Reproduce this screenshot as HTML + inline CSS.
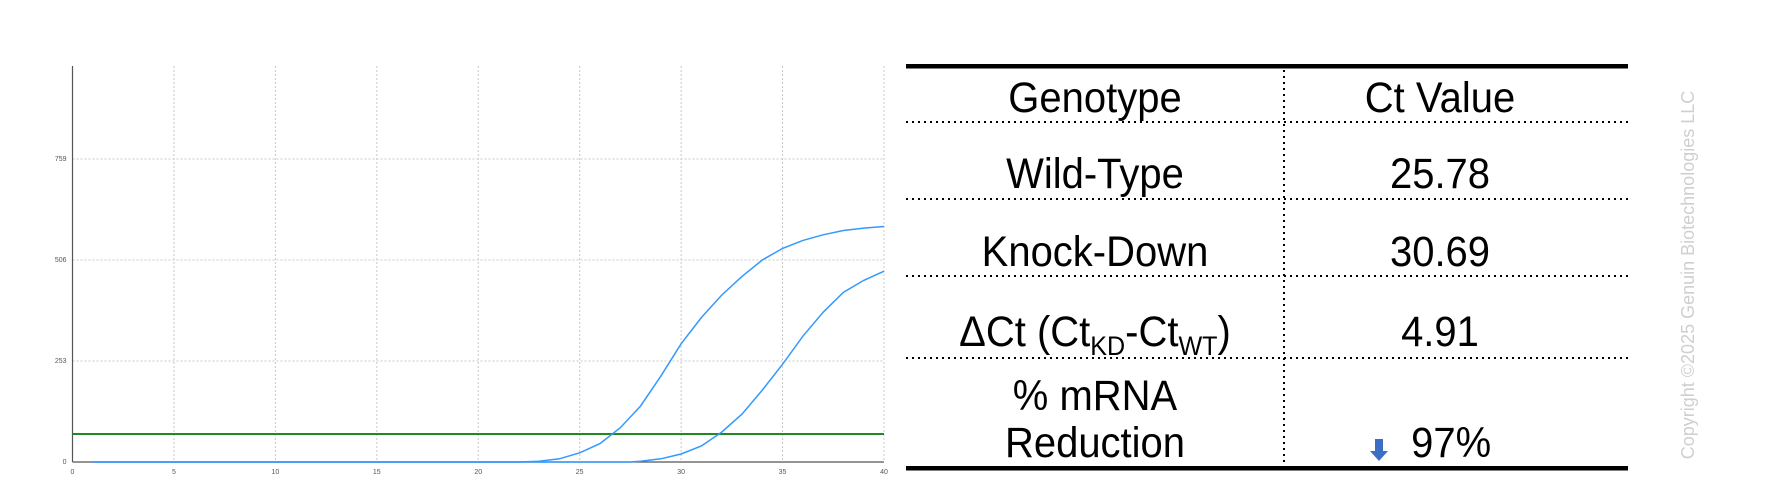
<!DOCTYPE html>
<html><head><meta charset="utf-8"><style>
html,body{margin:0;padding:0;background:#fff;}
svg{display:block;font-family:"Liberation Sans",sans-serif;}
</style></head><body>
<svg id="c" width="1776" height="493" viewBox="0 0 1776 493">
<g id="chart"></g>
<g>
  <rect x="906" y="64" width="722" height="4.5" fill="#000"/>
  <rect x="906" y="466" width="722" height="4.5" fill="#000"/>
  <g stroke="#000" stroke-width="2" stroke-dasharray="2,4" fill="none">
    <line x1="906" y1="122" x2="1628" y2="122"/>
    <line x1="906" y1="199" x2="1628" y2="199"/>
    <line x1="906" y1="276" x2="1628" y2="276"/>
    <line x1="906" y1="358" x2="1628" y2="358"/>
    <line x1="1284" y1="70" x2="1284" y2="466"/>
  </g>
  <g font-size="43" fill="#000" text-anchor="middle" transform="matrix(0.93,0,0,1,76.65,0)">
    <text x="1095" y="112">Genotype</text>
    <text x="1095" y="188">Wild-Type</text>
    <text x="1095" y="266">Knock-Down</text>
    <text x="1095" y="346">ΔCt (Ct<tspan font-size="27" dy="9">KD</tspan><tspan dy="-9">-Ct</tspan><tspan font-size="27" dy="9">WT</tspan><tspan dy="-9">)</tspan></text>
    <text x="1095" y="410">% mRNA</text>
    <text x="1095" y="457">Reduction</text>
  </g>
  <g font-size="43" fill="#000" text-anchor="middle" transform="matrix(0.93,0,0,1,100.8,0)">
    <text x="1440" y="112">Ct Value</text>
    <text x="1440" y="188">25.78</text>
    <text x="1440" y="266">30.69</text>
    <text x="1440" y="346">4.91</text>
    <text x="1452" y="457">97%</text>
  </g>
  <path d="M1375 439 h8 v12 h5 l-9 10 l-9 -10 h5 z" fill="#3a6fc4"/>
</g>
<text transform="translate(1694,275) rotate(-90)" text-anchor="middle" font-size="18" fill="#cfcfcf">Copyright ©2025 Genuin Biotechnologies LLC</text>
</svg>
<script>
const xTicks=[0,5,10,15,20,25,30,35,40];
const yTicks=[0,253,506,759];
const yTickLabels=["0","253","506","759"];
const threshold=[70];
const cycles=[1,22,23,24,25,26,27,28,29,30,31,32,33,34,35,36,37,38,39,40];
const wtValues=[0,0,2,8,23,46,86,140,215,296,362,418,465,506,535,555,569,580,586,590];
const kdCycles=[1,27.5,28,29,30,31,32,33,34,35,36,37,38,39,40];
const kdValues=[0,0,2,8,20,40,75,120,180,245,315,375,425,455,478];

const NS="http://www.w3.org/2000/svg";
const g=document.getElementById('chart');
const X0=72.5,X1=884,Y0=462,YT=66;
const xs=v=>X0+(v/40)*(X1-X0);
const ys=v=>Y0-(v/253)*101;
function mk(t,a){const e=document.createElementNS(NS,t);for(const k in a)e.setAttribute(k,a[k]);g.appendChild(e);return e;}
xTicks.forEach((t,i)=>{
  if(t>0){const l=mk('line',{x1:xs(t),y1:YT,x2:xs(t),y2:Y0,stroke:'#c8c8c8','stroke-width':1,'stroke-dasharray':'2,2'});
  
  }
  const tx=mk('text',{x:xs(t),y:Y0+12,'font-size':7,fill:'#555','text-anchor':'middle'});
  tx.textContent=t;
  
  
});
yTicks.forEach((t,i)=>{
  if(t>0){const l=mk('line',{x1:X0,y1:ys(t),x2:X1,y2:ys(t),stroke:'#c8c8c8','stroke-width':1,'stroke-dasharray':'2,2'});
  
  }
  const tx=mk('text',{x:X0-6,y:ys(t)+2,'font-size':7,fill:'#555','text-anchor':'end'});
  tx.textContent=yTickLabels[i];
  
  
});
const ya=mk('line',{x1:X0,y1:YT,x2:X0,y2:Y0,stroke:'#555','stroke-width':1.2});


const xa=mk('line',{x1:X0,y1:Y0,x2:X1,y2:Y0,stroke:'#555','stroke-width':1.2});


const th=mk('line',{x1:X0,y1:ys(threshold[0]),x2:X1,y2:ys(threshold[0]),stroke:'#1f8a1f','stroke-width':2});


function series(cx,vals,name){
  const d=cx.map((c,i)=>(i?'L':'M')+xs(c).toFixed(1)+' '+ys(vals[i]).toFixed(1)).join(' ');
  const p=mk('path',{d:d,fill:'none',stroke:'#3399ff','stroke-width':1.5});
  
  
}
series(cycles,wtValues,'wild-type-curve');
series(kdCycles,kdValues,'knock-down-curve');
</script>
</body></html>
